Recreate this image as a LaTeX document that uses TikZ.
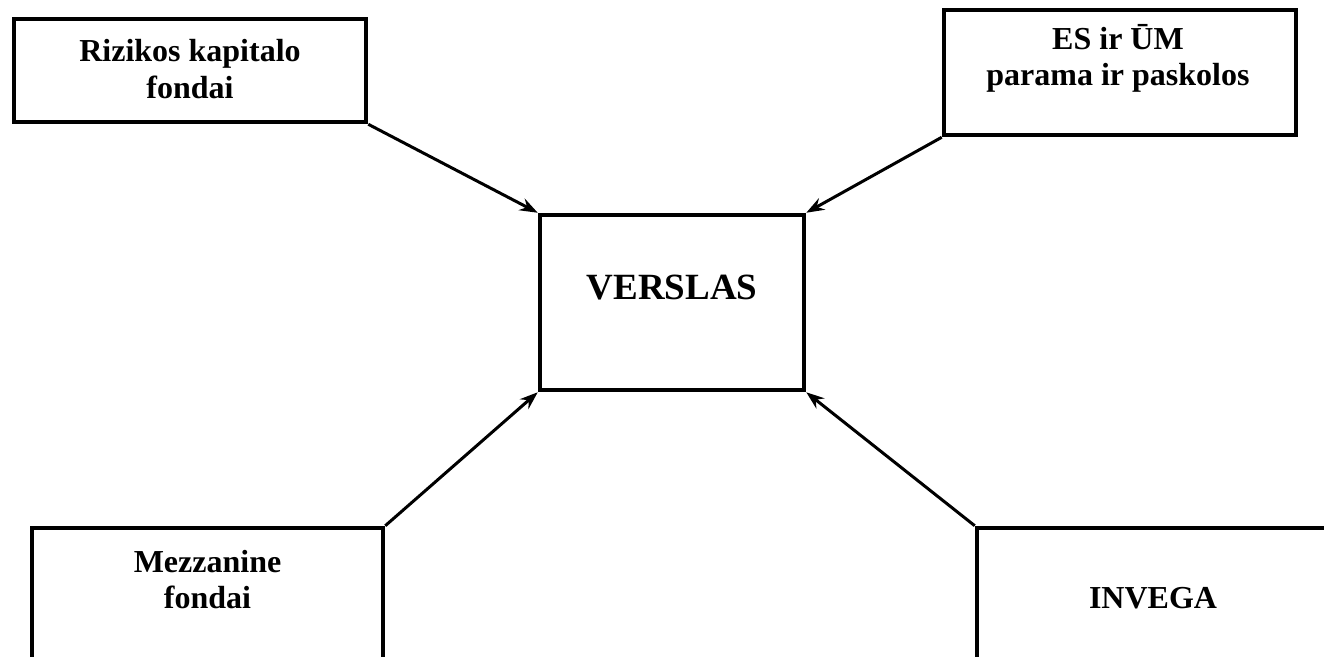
\documentclass[tikz,border=0pt]{standalone}
\usepackage{fontspec}
\setmainfont{Liberation Serif}
\usetikzlibrary{arrows.meta}
\tikzset{
  box/.style={draw, line width=4.5pt, rectangle, inner sep=0pt},
  lbl/.style={anchor=base, inner sep=0pt, font=\bfseries\fontsize{32}{36}\selectfont},
  biglbl/.style={anchor=base, inner sep=0pt, font=\bfseries\fontsize{37}{40}\selectfont},
  link/.style={line width=3pt, -{Stealth[length=18pt, width=13pt, inset=6pt]}}
}
\begin{document}
\begin{tikzpicture}[x=1pt, y=-1pt]
\useasboundingbox (0,0) rectangle (1324,656);
\clip (0,0) rectangle (1324,656);
% boxes
\node[box, minimum width=352pt, minimum height=103pt] (tl) at (190,70.5) {};
\node[box, minimum width=352pt, minimum height=125pt] (tr) at (1120,72.5) {};
\node[box, minimum width=264pt, minimum height=175pt] (c) at (672,302.5) {};
\node[box, minimum width=351pt, minimum height=172pt] (bl) at (207.5,614) {};
\node[box, minimum width=352pt, minimum height=172pt] (br) at (1153,614) {};
% labels
\node[lbl] (tl1) at (190,61) {Rizikos kapitalo};
\node[lbl] (tl2) at (190,98) {fondai};
\node[lbl] (tr1) at (1118,49) {ES ir ŪM};
\node[lbl] (tr2) at (1118,85) {parama ir paskolos};
\node[biglbl] (c1) at (672,299) {VERSLAS};
\node[lbl] (bl1) at (207.5,572) {Mezzanine};
\node[lbl] (bl2) at (207.5,608) {fondai};
\node[lbl] (br1) at (1153,608) {INVEGA};
% connectors
\draw[link] (tl.south east) -- (c.north west);
\draw[link] (tr.south west) -- (c.north east);
\draw[link] (bl.north east) -- (c.south west);
\draw[link] (br.north west) -- (c.south east);
\end{tikzpicture}
\end{document}
